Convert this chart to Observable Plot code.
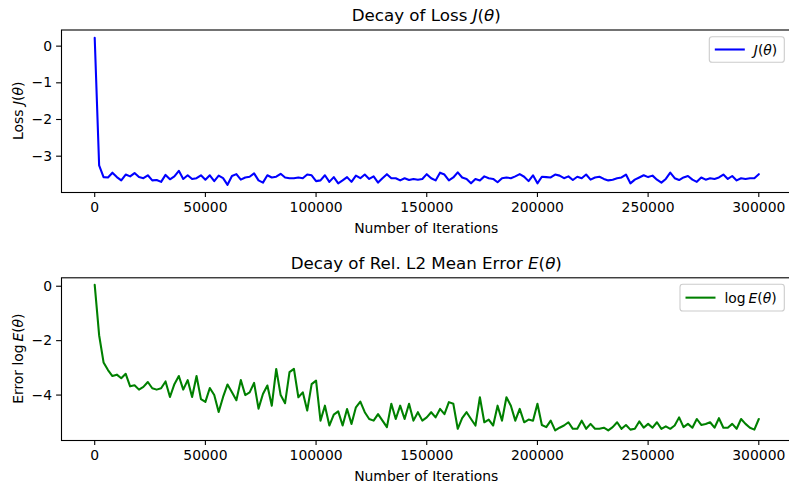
<!DOCTYPE html>
<html><head><meta charset="utf-8">
<script src="https://cdn.jsdelivr.net/npm/d3@7"></script>
<script src="https://cdn.jsdelivr.net/npm/@observablehq/plot@0.6"></script>
<style>
html,body{margin:0;padding:0;background:#fff;overflow:hidden;}
#chart svg{display:block;}
</style>
</head><body><div id="chart"></div>
<script>
// ---- data ----
const iterStep = 2000;
const lossValues = [
  0.23, -3.25, -3.57, -3.58, -3.45, -3.57, -3.66, -3.5, -3.55, -3.46,
  -3.57, -3.6, -3.52, -3.66, -3.65, -3.7, -3.51, -3.63, -3.55, -3.4,
  -3.62, -3.52, -3.62, -3.6, -3.52, -3.64, -3.52, -3.68, -3.53, -3.6,
  -3.78, -3.54, -3.49, -3.64, -3.58, -3.56, -3.47, -3.66, -3.72, -3.52,
  -3.58, -3.56, -3.48, -3.58, -3.6, -3.6, -3.58, -3.6, -3.5, -3.52,
  -3.68, -3.66, -3.52, -3.7, -3.57, -3.74, -3.66, -3.57, -3.7, -3.53,
  -3.6, -3.5, -3.62, -3.55, -3.72, -3.6, -3.49, -3.6, -3.6, -3.66,
  -3.6, -3.65, -3.62, -3.64, -3.62, -3.49, -3.6, -3.66, -3.45, -3.5,
  -3.66, -3.58, -3.44, -3.58, -3.62, -3.74, -3.62, -3.66, -3.55, -3.6,
  -3.62, -3.71, -3.6, -3.58, -3.6, -3.55, -3.49, -3.56, -3.68, -3.52,
  -3.74, -3.56, -3.57, -3.58, -3.5, -3.53, -3.6, -3.55, -3.65, -3.56,
  -3.6, -3.5, -3.64, -3.58, -3.56, -3.62, -3.66, -3.64, -3.6, -3.58,
  -3.5, -3.74, -3.64, -3.58, -3.52, -3.57, -3.53, -3.64, -3.72, -3.62,
  -3.45, -3.6, -3.65, -3.58, -3.54, -3.64, -3.7, -3.58, -3.64, -3.6,
  -3.62, -3.58, -3.5, -3.62, -3.54, -3.66, -3.6, -3.62, -3.6, -3.6,
  -3.49
];
const errorValues = [
  0.05, -1.8, -2.8, -3.08, -3.3, -3.25, -3.38, -3.22, -3.68, -3.64,
  -3.8, -3.7, -3.52, -3.75, -3.8, -3.75, -3.5, -4.07, -3.6, -3.3,
  -3.8, -3.45, -4.07, -3.3, -4.15, -4.25, -3.74, -4.0, -4.62, -4.07,
  -3.61, -3.9, -4.19, -3.45, -4.0, -3.9, -3.55, -4.5, -3.96, -3.65,
  -4.39, -3.04, -4.0, -4.3, -3.16, -3.04, -4.08, -3.9, -4.57, -3.6,
  -3.47, -4.94, -4.39, -5.12, -4.72, -4.6, -5.12, -4.51, -5.06, -4.45,
  -4.24, -4.63, -4.88, -4.94, -4.7, -4.94, -5.18, -4.32, -4.88, -4.39,
  -4.88, -4.32, -4.94, -4.63, -4.94, -4.82, -4.63, -4.82, -4.51, -4.7,
  -4.26, -4.32, -5.24, -4.85, -4.63, -4.88, -5.12, -4.08, -5.0, -4.9,
  -5.12, -4.39, -4.94, -4.08, -4.39, -4.94, -4.51, -5.0, -4.9, -4.94,
  -4.32, -5.1, -5.18, -4.94, -5.3, -5.2, -5.12, -5.0, -5.24, -5.24,
  -4.94, -5.24, -5.06, -5.24, -5.24, -5.2, -5.3, -5.18, -5.0, -5.24,
  -5.1, -5.27, -5.24, -4.97, -5.2, -5.06, -5.2, -5.0, -5.24, -5.15,
  -5.24, -5.12, -4.82, -5.18, -5.06, -5.2, -4.88, -5.1, -5.06, -5.0,
  -5.2, -4.85, -5.2, -5.2, -5.06, -5.24, -4.88, -5.06, -5.2, -5.27,
  -4.88
];
const iterations = lossValues.map((_, i) => i * iterStep);
const xTicks = [0, 50000, 100000, 150000, 200000, 250000, 300000];
const lossTicks = [0, -1, -2, -3];
const errorTicks = [0, -2, -4];

// ---- rendering ----
const FONT = "'DejaVu Sans', sans-serif";
const W = 789, ML = 61, MR = -2.5;
const fmt = d3.format("d");

function addRich(parent, parts) {
  parts.forEach(([t, it]) => {
    const ts = parent.append("tspan").text(t);
    if (it) ts.attr("font-style", "italic");
  });
}

function panel(cfg) {
  const data = iterations.map((x, i) => ({x, y: cfg.values[i]}));
  const fig = Plot.plot({
    width: W, height: cfg.height,
    marginTop: cfg.mt, marginBottom: cfg.mb, marginLeft: ML, marginRight: MR,
    style: {fontFamily: FONT, fontSize: "13.9px", color: "#000", background: "#fff"},
    x: {domain: [-15000, 315000]},
    y: {domain: cfg.yDomain},
    marks: [
      Plot.line(data, {x: "x", y: "y", stroke: cfg.color, strokeWidth: 2.08, strokeLinejoin: "round"}),
      Plot.axisX({ticks: xTicks, tickFormat: fmt, tickSize: 4.9, tickPadding: 4.5, label: null, fontSize: 13.9, strokeWidth: 1.1}),
      Plot.axisY({ticks: cfg.yTicks, tickFormat: fmt, tickSize: 4.9, tickPadding: 4.5, label: null, fontSize: 13.9, strokeWidth: 1.1}),
      Plot.frame({stroke: "#000", strokeWidth: 1.1})
    ]
  });
  const svg = d3.select(fig);
  const cx = (ML + (W - MR)) / 2;
  const axTop = cfg.mt, axBot = cfg.height - cfg.mb;
  // title
  const t = svg.append("text").attr("x", cx).attr("y", axTop - 8.5)
    .attr("text-anchor", "middle").attr("font-size", 16.7).attr("fill", "#000");
  addRich(t, cfg.title);
  // x label
  svg.append("text").attr("x", cx).attr("y", axBot + 40.5)
    .attr("text-anchor", "middle").attr("font-size", 13.9).attr("fill", "#000")
    .text("Number of Iterations");
  // y label
  const yl = svg.append("text")
    .attr("transform", `translate(22.5,${(axTop + axBot) / 2}) rotate(-90)`)
    .attr("text-anchor", "middle").attr("font-size", 13.9).attr("fill", "#000");
  addRich(yl, cfg.ylabel);
  // legend
  const L = cfg.legend;
  const g = svg.append("g");
  g.append("rect").attr("x", L.x).attr("y", L.y).attr("width", L.w).attr("height", L.h)
    .attr("rx", 2.8).attr("fill", "#fff").attr("fill-opacity", 0.8)
    .attr("stroke", "#cccccc").attr("stroke-width", 1.1);
  const ly = L.y + L.h / 2;
  g.append("line").attr("x1", L.x + 5.5).attr("x2", L.x + 35.5).attr("y1", ly).attr("y2", ly)
    .attr("stroke", cfg.color).attr("stroke-width", 2.08);
  const lt = g.append("text").attr("x", L.x + 44.5).attr("y", ly).attr("dy", "0.36em")
    .attr("text-anchor", "start").attr("font-size", 13.9).attr("fill", "#000");
  addRich(lt, cfg.legendText);
  return fig;
}

const root = document.getElementById("chart");
root.append(panel({
  values: lossValues, color: "#0000ff", height: 242, mt: 29.5, mb: 50,
  yDomain: [-3.99, 0.44], yTicks: lossTicks,
  title: [["Decay of Loss ", false], ["J", true], ["(", false], ["θ", true], [")", false]],
  ylabel: [["Loss ", false], ["J", true], ["(", false], ["θ", true], [")", false]],
  legend: {x: 709.3, y: 36.7, w: 75, h: 25.6},
  legendText: [["J", true], ["(", false], ["θ", true], [")", false]]
}));
root.append(panel({
  values: errorValues, color: "#008000", height: 242, mt: 35.3, mb: 44,
  yDomain: [-5.67, 0.31], yTicks: errorTicks,
  title: [["Decay of Rel. L2 Mean Error ", false], ["E", true], ["(", false], ["θ", true], [")", false]],
  ylabel: [["Error log\u2009", false], ["E", true], ["(", false], ["θ", true], [")", false]],
  legend: {x: 680, y: 42.3, w: 104.3, h: 26.7},
  legendText: [["log\u2009", false], ["E", true], ["(", false], ["θ", true], [")", false]]
}));
</script>
</body></html>
